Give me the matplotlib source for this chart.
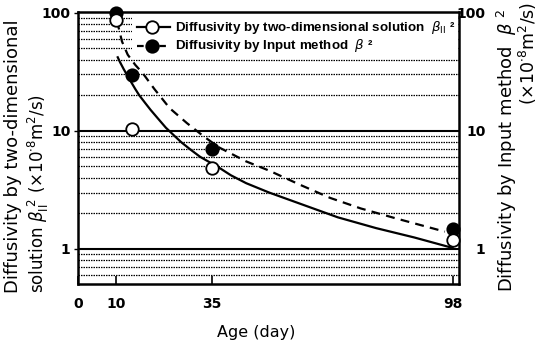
import matplotlib
matplotlib.use("Agg")
import matplotlib.pyplot as plt
from matplotlib.lines import Line2D
from matplotlib.patches import Rectangle

# ---- data ----
age_2d = [10, 14, 35, 98]
diff_2d = [87, 10.3, 4.85, 1.18]          # open circles, two-dimensional solution
age_inp = [10, 14, 35, 98]
diff_inp = [100, 29.5, 7.0, 1.47]         # filled circles, input method

curve_2d_age = [10.4, 11, 12, 13, 14, 15, 16, 17.5, 19, 21, 23, 25, 27, 29.5, 32, 34.5,
                37, 40, 44, 50, 58, 68, 78, 88, 98]
curve_2d_val = [41.8, 38, 33, 29, 25.5, 22.5, 20, 17.3, 15, 12.6, 10.6, 9.2, 8.0, 6.9,
                6.0, 5.4, 4.85, 4.2, 3.6, 3.0, 2.42, 1.85, 1.5, 1.25, 1.02]

curve_inp_age = [10.2, 11.5, 13, 15, 17, 20, 24, 28.5, 33, 37, 44, 50, 58, 66, 74, 83, 90, 96]
curve_inp_val = [85, 57, 44, 36, 30.5, 22.5, 15.5, 11.6, 8.9, 7.2, 5.5, 4.6, 3.5, 2.7, 2.2, 1.82, 1.58, 1.40]

xticks = [0, 10, 35, 98]
yticks = [1, 10, 100]
minor_grid = [0.6, 0.7, 0.8, 0.9, 2, 3, 4, 5, 6, 7, 8, 9, 20, 30, 40, 50, 60, 70, 80, 90]

legend_labels = [r"Diffusivity by two-dimensional solution  $\beta_{\rm II}$ ²",
                 r"Diffusivity by Input method  $\beta$ ²"]

W, H = 539, 351
fig = plt.figure(figsize=(W / 100, H / 100), dpi=100)
ax = fig.add_axes([78 / W, 1 - 284 / H, 381 / W, 272 / H])
ax.set_yscale("log")
ax.set_xlim(0, 99.7)
ax.set_ylim(0.505, 101)

# grid lines
for v in minor_grid:
    ax.axhline(v, color="black", lw=0.9, ls=(0, (1.2, 0.8)), zorder=1)
for v in [1, 10]:
    ax.axhline(v, color="black", lw=1.5, zorder=1)

# white legend area hiding the grid
ax.add_patch(Rectangle((132 / W, 1 - 55 / H), (458 - 132) / W, 42 / H,
                       transform=fig.transFigure, facecolor="white",
                       edgecolor="none", zorder=2))

# curves
ax.plot(curve_2d_age, curve_2d_val, color="black", lw=1.6, zorder=3)
ax.plot(curve_inp_age, curve_inp_val, color="black", lw=1.6, ls=(0, (4, 2.8)), zorder=3)

# points
ax.plot(age_inp, diff_inp, "o", ms=9, mfc="black", mec="black", mew=1.2,
        zorder=5, clip_on=False)
ax.plot(age_2d, diff_2d, "o", ms=9, mfc="white", mec="black", mew=1.3,
        zorder=6, clip_on=False)

for s in ax.spines.values():
    s.set_linewidth(1.8)

ax.set_xticks(xticks)
ax.set_xticklabels([str(t) for t in xticks], fontsize=10, fontweight="bold",
                   family="DejaVu Sans")
ax.tick_params(axis="x", direction="in", length=6, width=1.2, pad=9)
ax.set_yticks(yticks)
ax.set_yticklabels(["1", "10", "100"], fontsize=10, fontweight="bold",
                   family="DejaVu Sans")
ax.yaxis.set_minor_locator(matplotlib.ticker.NullLocator())
ax.tick_params(axis="y", direction="out", length=3, width=1.0, pad=2.5)

ax2 = ax.twinx()
ax2.set_yscale("log")
ax2.set_ylim(ax.get_ylim())
ax2.set_yticks(yticks)
ax2.set_yticklabels(["1", "10", "100"], fontsize=10, fontweight="bold",
                    family="DejaVu Sans")
ax2.yaxis.set_minor_locator(matplotlib.ticker.NullLocator())
ax2.tick_params(axis="y", length=0, pad=19)
for lab in ax2.get_yticklabels():
    lab.set_ha("right")
for s in ax2.spines.values():
    s.set_visible(False)

# axis labels
fig.text(256 / W, 1 - 333 / H, "Age (day)", ha="center", va="center",
         fontsize=11.5, family="DejaVu Sans")
fig.text(13 / W, 1 - 293 / H, "Diffusivity by two-dimensional", rotation=90,
         ha="center", va="bottom", fontsize=13, family="DejaVu Sans")
fig.text(38 / W, 1 - 293 / H,
         r"solution $\beta_{\rm II}^{\ 2}$ (×10$^{\cdot 8}$m$^2$/s)",
         rotation=90, ha="center", va="bottom", fontsize=12, family="DejaVu Sans")
fig.text(507 / W, 1 - 292 / H, r"Diffusivity by Input method  $\beta^{\ 2}$",
         rotation=90, ha="center", va="bottom", fontsize=13, family="DejaVu Sans")
fig.text(528 / W, 1 - 2 / H, r"(×10$^{\cdot 8}$m$^2$/s)", rotation=90,
         ha="center", va="top", fontsize=12.5, family="DejaVu Sans")

# legend (drawn by hand for exact placement)
row_y = [27, 46]
styles = [dict(ls="-", mfc="white"), dict(ls=(0, (3, 2)), mfc="black")]
for yy, st, lab in zip(row_y, styles, legend_labels):
    fy = 1 - yy / H
    fig.add_artist(Line2D([137 / W, 170 / W], [fy, fy], transform=fig.transFigure,
                          color="black", lw=1.6, ls=st["ls"], zorder=10))
    fig.add_artist(Line2D([152 / W], [fy], transform=fig.transFigure, marker="o",
                          ms=9, mfc=st["mfc"], mec="black", mew=1.3, ls="none",
                          zorder=11))
    fig.text(175 / W, fy, lab, ha="left", va="center", fontsize=9.6,
             fontweight="bold", family="Liberation Sans", zorder=12)

fig.savefig("out.png", dpi=100)
